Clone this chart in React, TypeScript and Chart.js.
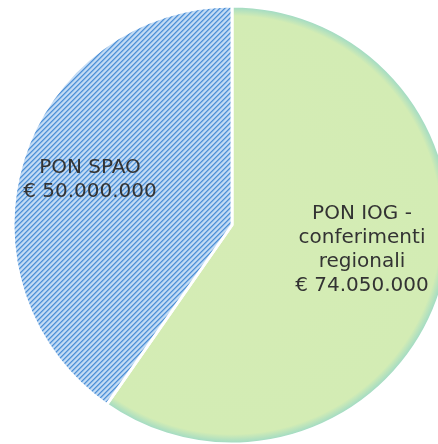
import React, { useEffect, useRef } from "react";
import { Chart, registerables } from "chart.js";

Chart.register(...registerables);

const categories = ["PON IOG - conferimenti regionali", "PON SPAO"];
const values = [74050000, 50000000];
const labelLines = [
  ["PON IOG -", "conferimenti", "regionali", "€ 74.050.000"],
  ["PON SPAO", "€ 50.000.000"],
];

const OFFSET_X = 2;
const OFFSET_Y = -5;
const SIZE = 460;
const RADIUS = 219;

function makePattern(): CanvasPattern | string {
  const n = 5;
  const c = document.createElement("canvas");
  c.width = n;
  c.height = n;
  const ctx = c.getContext("2d");
  if (!ctx) return "#9CC3EB";
  const cols = ["#4F90D6", "#80B2E5", "#B8D5F2", "#C8DEF5", "#A5C9EE"];
  for (let y = 0; y < n; y++) {
    for (let x = 0; x < n; x++) {
      ctx.fillStyle = cols[(x + y) % n];
      ctx.fillRect(x, y, 1, 1);
    }
  }
  const p = ctx.createPattern(c, "repeat");
  return p || "#9CC3EB";
}

const labelPlugin = {
  id: "sliceLabels",
  afterDraw(chart: any) {
    const ctx = chart.ctx;
    const cx = (chart.chartArea.left + chart.chartArea.right) / 2;
    const cy = (chart.chartArea.top + chart.chartArea.bottom) / 2;
    ctx.save();
    ctx.fillStyle = "#333333";
    ctx.font = "20px 'DejaVu Sans'";
    ctx.textAlign = "center";
    ctx.textBaseline = "alphabetic";
    const g = labelLines[0];
    g.forEach((t, i) => ctx.fillText(t, cx + 130, cy - 6 + i * 24));
    const b = labelLines[1];
    b.forEach((t, i) => ctx.fillText(t, cx - 142, cy - 52 + i * 24));
    ctx.restore();
  },
};

export default function App() {
  const ref = useRef<HTMLCanvasElement | null>(null);
  useEffect(() => {
    const canvas = ref.current;
    if (!canvas) return;
    const ctx2 = canvas.getContext("2d")!;
    const cx = SIZE / 2;
    const cy = SIZE / 2;
    const grad = ctx2.createRadialGradient(cx, cy, 0, cx, cy, RADIUS);
    grad.addColorStop(0, "#D5ECB5");
    grad.addColorStop(0.955, "#D3ECB4");
    grad.addColorStop(1, "#9CD9C6");
    const chart = new Chart(canvas, {
      type: "pie",
      data: {
        labels: categories,
        datasets: [
          {
            data: values,
            backgroundColor: [grad, makePattern()],
            borderColor: "#FFFFFF",
            borderWidth: 3,
            radius: RADIUS,
          } as any,
        ],
      },
      options: {
        animation: false,
        responsive: false,
        maintainAspectRatio: false,
        layout: { padding: 0 },
        plugins: {
          legend: { display: false },
          tooltip: { enabled: false },
        },
      },
      plugins: [labelPlugin],
    });
    return () => chart.destroy();
  }, []);
  return (
    <div
      style={{
        position: "fixed",
        left: 0,
        top: 0,
        width: 438,
        height: 444,
        overflow: "hidden",
        background: "#FFFFFF",
      }}
    >
      <canvas
        ref={ref}
        width={SIZE}
        height={SIZE}
        style={{ position: "absolute", left: OFFSET_X, top: OFFSET_Y, width: SIZE, height: SIZE }}
      />
    </div>
  );
}
